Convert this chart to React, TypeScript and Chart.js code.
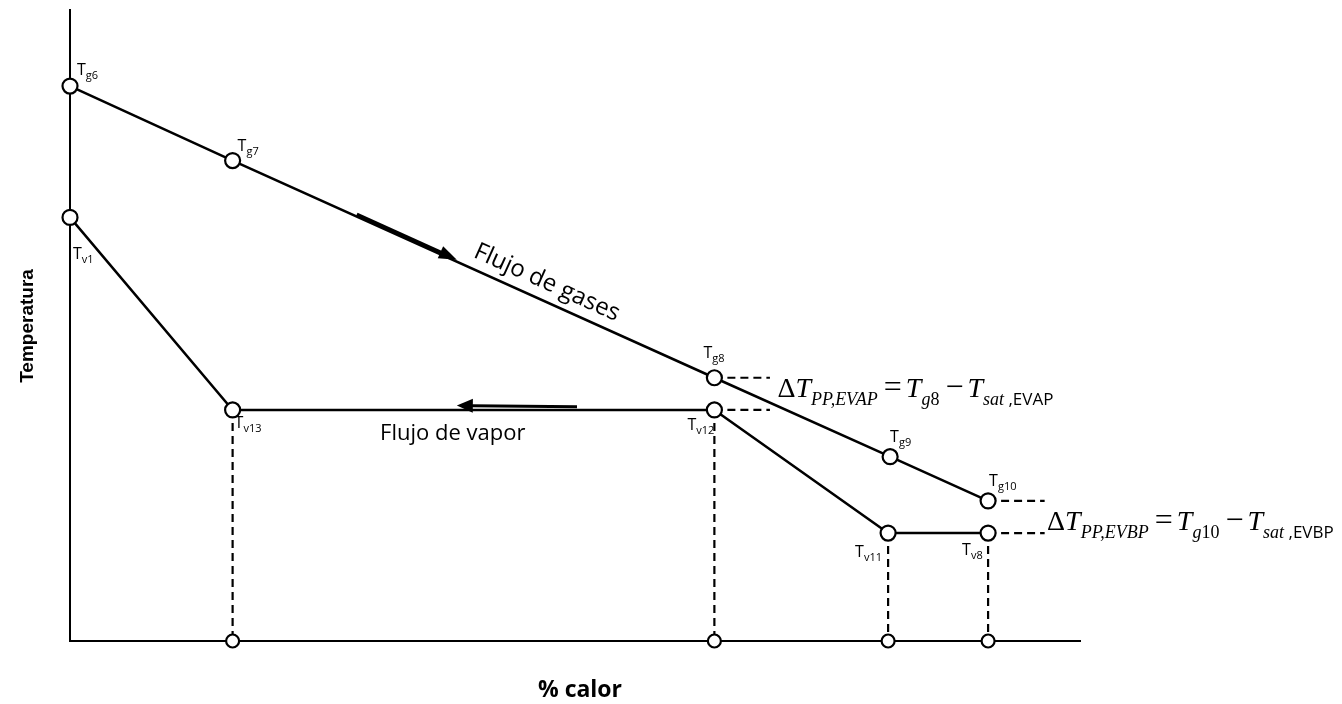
import React, { useEffect, useRef } from 'react';
import { Chart, registerables } from 'chart.js';

Chart.register(...registerables);

// ---- Data (heat % on x, temperature on y, arbitrary 0-100 scales) ----
const gasLabels = ['g6', 'g7', 'g8', 'g9', 'g10'];
const gasHeat = [0, 16.1, 63.8, 81.2, 90.9];
const gasTemp = [87.9, 76.1, 41.7, 29.2, 22.2];

const vaporLabels = ['v1', 'v13', 'v12', 'v11', 'v8'];
const vaporHeat = [0, 16.1, 63.8, 81.0, 90.9];
const vaporTemp = [67.1, 36.6, 36.6, 17.1, 17.1];

// vapor points projected down to the heat axis
const dropIndices = [1, 2, 3, 4];
// pinch-point leaders: gas index, vapor index, end heat
const pinchGasIdx = [2, 4];
const pinchVaporIdx = [2, 4];
const pinchLeaderEnd = [69.3, 96.5];

// flow arrows [x1, y1, x2, y2] in data units
const gasArrow = [28.4, 67.6, 38.3, 60.4];
const vaporArrow = [50.2, 37.1, 38.3, 37.3];

const xTitle = '% calor';
const yTitle = 'Temperatura';
const gasFlowText = 'Flujo de gases';
const vaporFlowText = 'Flujo de vapor';

const SANS = '"Open Sans", "Noto Sans", sans-serif';
const SERIF = '"Liberation Serif", "DejaVu Serif", serif';

// label offsets (px) relative to point: [dx to left of T, dy to baseline]
const gasLabelOffsets = [[7, -11], [5, -10], [-11, -20], [0, -15], [1, -15]];
const vaporLabelOffsets = [[3, 42], [2, 18], [-27, 20], [-33, 24], [-26, 22]];

type Seg = { t: string; f: string; dy?: number; gap?: number };

function drawSegs(ctx: CanvasRenderingContext2D, segs: Seg[], x: number, y: number) {
  let cx = x;
  ctx.textAlign = 'left';
  ctx.textBaseline = 'alphabetic';
  for (const s of segs) {
    cx += s.gap || 0;
    ctx.font = s.f;
    ctx.fillText(s.t, cx, y + (s.dy || 0));
    cx += ctx.measureText(s.t).width;
  }
  return cx;
}

function formula(sub1: string, g: string): Seg[] {
  const M = 28;
  const S = 18;
  return [
    { t: 'Δ', f: `${M}px ${SERIF}` },
    { t: 'T', f: `italic ${M}px ${SERIF}` },
    { t: sub1, f: `italic ${S}px ${SERIF}`, dy: 8 },
    { t: '=', f: `${M + 4}px ${SERIF}`, gap: 6 },
    { t: 'T', f: `italic ${M}px ${SERIF}`, gap: 4 },
    { t: 'g', f: `italic ${S}px ${SERIF}`, dy: 8 },
    { t: g, f: `${S}px ${SERIF}`, dy: 8 },
    { t: '−', f: `${M + 4}px ${SERIF}`, gap: 6 },
    { t: 'T', f: `italic ${M}px ${SERIF}`, gap: 4 },
    { t: 'sat', f: `italic ${S}px ${SERIF}`, dy: 8 },
    { t: ' ,' + sub1.split(',')[1], f: `17px ${SANS}`, dy: 8 },
  ];
}

function arrow(ctx: CanvasRenderingContext2D, x1: number, y1: number, x2: number, y2: number, w: number, hl: number, hh: number) {
  const a = Math.atan2(y2 - y1, x2 - x1);
  const bx = x2 - hl * Math.cos(a);
  const by = y2 - hl * Math.sin(a);
  ctx.lineWidth = w;
  ctx.beginPath();
  ctx.moveTo(x1, y1);
  ctx.lineTo(bx + Math.cos(a), by + Math.sin(a));
  ctx.stroke();
  ctx.beginPath();
  ctx.moveTo(x2, y2);
  ctx.lineTo(bx + hh * Math.sin(a), by - hh * Math.cos(a));
  ctx.lineTo(bx - hh * Math.sin(a), by + hh * Math.cos(a));
  ctx.closePath();
  ctx.fill();
}

const overlay = {
  id: 'overlay',
  afterDatasetsDraw(chart: any) {
    const ctx: CanvasRenderingContext2D = chart.ctx;
    const xs = chart.scales.x;
    const ys = chart.scales.y;
    const px = (v: number) => xs.getPixelForValue(v);
    const py = (v: number) => ys.getPixelForValue(v);
    ctx.save();
    ctx.fillStyle = '#000';
    ctx.strokeStyle = '#000';
    ctx.lineCap = 'butt';

    // point labels
    const drawLabel = (x: number, y: number, sub: string, off: number[]) => {
      drawSegs(ctx, [
        { t: 'T', f: `16px ${SANS}` },
        { t: sub, f: `11px ${SANS}`, dy: 4 },
      ], x + off[0], y + off[1]);
    };
    gasLabels.forEach((l, i) => drawLabel(px(gasHeat[i]), py(gasTemp[i]), l, gasLabelOffsets[i]));
    vaporLabels.forEach((l, i) => drawLabel(px(vaporHeat[i]), py(vaporTemp[i]), l, vaporLabelOffsets[i]));

    // arrows
    arrow(ctx, px(gasArrow[0]), py(gasArrow[1]), px(gasArrow[2]), py(gasArrow[3]), 3.5, 18, 6.5);
    arrow(ctx, px(vaporArrow[0]), py(vaporArrow[1]), px(vaporArrow[2]), py(vaporArrow[3]), 3, 16, 7);

    // gas flow text along the line
    {
      const x1 = px(gasHeat[1]), y1 = py(gasTemp[1]);
      const x2 = px(gasHeat[2]), y2 = py(gasTemp[2]);
      const a = Math.atan2(y2 - y1, x2 - x1);
      const ax = px(39.4);
      const ay = y1 + (ax - x1) * Math.tan(a);
      const d = 11;
      ctx.save();
      ctx.translate(ax + d * Math.sin(a), ay - d * Math.cos(a));
      ctx.rotate(a);
      ctx.font = `24px ${SANS}`;
      ctx.textAlign = 'left';
      ctx.textBaseline = 'alphabetic';
      ctx.fillText(gasFlowText, 0, 0);
      ctx.restore();
    }
    // vapor flow text
    ctx.font = `22px ${SANS}`;
    ctx.textAlign = 'left';
    ctx.textBaseline = 'alphabetic';
    ctx.fillText(vaporFlowText, px(30.7), py(vaporTemp[1]) + 30);

    // pinch formulas
    {
      const gx = px(gasHeat[2]);
      const yb = (py(gasTemp[2]) + py(vaporTemp[2])) / 2 + 3;
      drawSegs(ctx, formula('PP,EVAP', '8'), gx + 63, yb);
      const gx2 = px(gasHeat[4]);
      const yb2 = (py(gasTemp[4]) + py(vaporTemp[4])) / 2 + 13;
      drawSegs(ctx, formula('PP,EVBP', '10'), gx2 + 59, yb2);
    }

    // axis titles
    ctx.font = `bold 19px "Liberation Sans", Arial, sans-serif`;
    ctx.textAlign = 'center';
    ctx.textBaseline = 'middle';
    ctx.save();
    ctx.translate(28, 326);
    ctx.rotate(-Math.PI / 2);
    ctx.fillText(yTitle, 0, 0);
    ctx.restore();
    ctx.font = `bold 23px ${SANS}`;
    ctx.fillText(xTitle, 580, 690);

    ctx.restore();
  },
};

export default function App() {
  const ref = useRef<HTMLCanvasElement>(null);
  useEffect(() => {
    if (!ref.current) return;
    const circle = {
      pointRadius: 7.5,
      pointBackgroundColor: '#fff',
      pointBorderColor: '#000',
      pointBorderWidth: 2.2,
    };
    const dashed = {
      borderColor: '#000',
      borderWidth: 2.2,
      borderDash: [8, 5],
      pointRadius: 0,
      showLine: true,
      fill: false,
      clip: false as any,
      order: 5,
    };
    const datasets: any[] = [
      {
        label: 'Gases',
        data: gasHeat.map((x, i) => ({ x, y: gasTemp[i] })),
        showLine: true,
        borderColor: '#000',
        borderWidth: 2.5,
        fill: false,
        clip: false,
        order: 1,
        ...circle,
      },
      {
        label: 'Vapor',
        data: vaporHeat.map((x, i) => ({ x, y: vaporTemp[i] })),
        showLine: true,
        borderColor: '#000',
        borderWidth: 2.5,
        fill: false,
        clip: false,
        order: 1,
        ...circle,
      },
      {
        label: 'Axis',
        data: dropIndices.map((i) => ({ x: vaporHeat[i], y: 0 })),
        showLine: false,
        clip: false,
        order: 0,
        ...circle,
        pointRadius: 6.5,
      },
      ...dropIndices.map((i) => ({
        ...dashed,
        data: [{ x: vaporHeat[i], y: vaporTemp[i] }, { x: vaporHeat[i], y: 0 }],
      })),
      ...pinchGasIdx.map((g, k) => ({
        ...dashed,
        data: [{ x: gasHeat[g], y: gasTemp[g] }, { x: pinchLeaderEnd[k], y: gasTemp[g] }],
      })),
      ...pinchVaporIdx.map((v, k) => ({
        ...dashed,
        data: [{ x: vaporHeat[v], y: vaporTemp[v] }, { x: pinchLeaderEnd[k], y: vaporTemp[v] }],
      })),
    ];
    const chart = new Chart(ref.current, {
      type: 'scatter',
      data: { datasets },
      options: {
        responsive: false,
        animation: false,
        events: [],
        devicePixelRatio: 1,
        layout: { padding: { top: 5, right: 262, left: 0, bottom: 0 } },
        plugins: { legend: { display: false }, tooltip: { enabled: false }, title: { display: false } },
        scales: {
          x: {
            type: 'linear',
            min: 0,
            max: 100,
            grid: { display: false },
            ticks: { display: false },
            border: { display: true, color: '#000', width: 2 },
            afterFit: (s: any) => { s.height = 63; },
          },
          y: {
            type: 'linear',
            min: 0,
            max: 100,
            grid: { display: false },
            ticks: { display: false },
            border: { display: true, color: '#000', width: 2 },
            afterFit: (s: any) => { s.width = 70; },
          },
        },
      } as any,
      plugins: [overlay],
    });
    return () => chart.destroy();
  }, []);
  return (
    <div style={{ position: 'absolute', left: 0, top: 0, width: 1342, height: 704, background: '#fff' }}>
      <canvas ref={ref} width={1342} height={704} />
    </div>
  );
}
